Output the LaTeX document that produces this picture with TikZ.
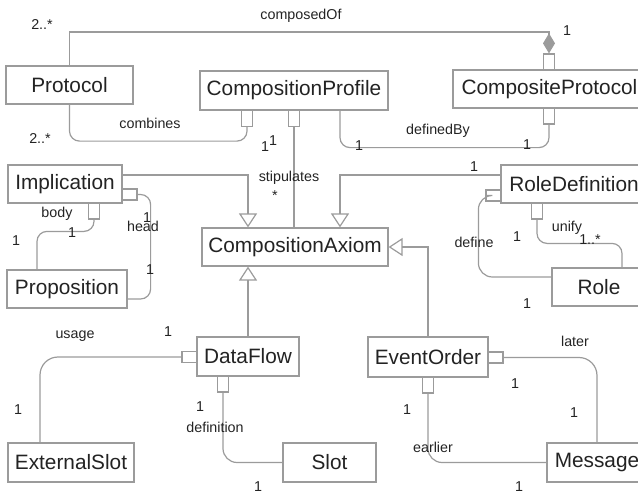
\documentclass[tikz,border=0pt]{standalone}
\usepackage{fontspec}
\setmainfont{Liberation Sans}
\usetikzlibrary{arrows.meta,calc}

\definecolor{linegray}{RGB}{155,155,155}
\definecolor{textdark}{RGB}{35,35,35}

\tikzset{
  cls/.style={draw=linegray, line width=1.2pt, fill=white, text=textdark,
    font=\fontsize{20.8}{24}\selectfont, minimum height=38pt, inner sep=0pt},
  qualv/.style={draw=linegray, line width=1.2pt, fill=white,
    minimum width=11pt, minimum height=16pt, inner sep=0pt},
  qualh/.style={draw=linegray, line width=1.2pt, fill=white,
    minimum width=15pt, minimum height=11pt, inner sep=0pt},
  assoc/.style={draw=linegray, line width=1.2pt, rounded corners=10pt},
  gen/.style={draw=linegray, line width=1.2pt, -{Triangle[open, length=14pt, width=18pt]}},
  lbl/.style={text=textdark, font=\fontsize{14.3}{16}\selectfont, inner sep=0pt},
}

\begin{document}
\begin{tikzpicture}[x=1pt,y=-1pt]
    \useasboundingbox (0,0) rectangle (638,495);
    \clip (0,0) rectangle (638,495);

    % Draw the classes
    \node[cls, minimum width=127pt] (protocol) at (69.5,85) {Protocol};
    \node[cls, minimum width=188pt, minimum height=39pt] (profile) at (294,90.5) {CompositionProfile};
    \node[cls, minimum width=193pt] (compProt) at (549.5,89) {CompositeProtocol};
    \node[cls, minimum width=114pt] (impl) at (65,184) {Implication};
    \node[cls, minimum width=120pt] (prop) at (67,289) {Proposition};
    \node[cls, minimum width=186pt] (axiom) at (295,247) {CompositionAxiom};
    \node[cls, minimum width=146pt] (roleDef) at (574,184) {RoleDefinition};
    \node[cls, minimum width=94pt] (role) at (599,287) {Role};
    \node[cls, minimum width=102pt, minimum height=39pt] (dataFlow) at (248,356.5) {DataFlow};
    \node[cls, minimum width=120pt, minimum height=40pt] (eventOrder) at (428,357) {EventOrder};
    \node[cls, minimum width=126pt, minimum height=39pt] (extSlot) at (71,462.5) {ExternalSlot};
    \node[cls, minimum width=93pt, minimum height=39pt] (slot) at (329.5,462.5) {Slot};
    \node[cls, minimum width=100pt, minimum height=39pt] (message) at (597,462.5) {Message};

    % Qualifier boxes
    \node[qualv] (qComb) at (247,118.5) {};
    \node[qualv] (qStip) at (294,118.5) {};
    \node[qualv] (qCompOf) at (549,62) {};
    \node[qualv] (qDefBy) at (549,116) {};
    \node[qualh] (qHead) at (129.5,194.5) {};
    \node[qualv] (qBody) at (94,211) {};
    \node[qualh] (qDefine) at (493.5,195.5) {};
    \node[qualv] (qUnify) at (537,211) {};
    \node[qualh] (qUsage) at (189.5,357) {};
    \node[qualv] (qDefin) at (223,384) {};
    \node[qualh] (qLater) at (495.5,357.5) {};
    \node[qualv] (qEarlier) at (428,385) {};

    % Composition
    \coordinate (cmpTurn) at (549,32);
    \draw[assoc, sharp corners, -{Diamond[fill=linegray, length=20pt, width=12pt]}]
      (protocol.north) |- (cmpTurn) -- (qCompOf.north);

    % Generalizations
    \draw[gen] ([yshift=9pt]impl.east) -| ([xshift=-47pt]axiom.north);
    \draw[gen] ([yshift=9pt]roleDef.west) -| ([xshift=45pt]axiom.north);
    \draw[gen] (dataFlow.north) -- (dataFlow.north |- axiom.south);
    \draw[gen] (eventOrder.north) |- (axiom.east);

    % Associations
    \draw[assoc] (protocol.south) |- ($(qComb.south)+(0,14)$) -- (qComb.south);
    \draw[assoc] ([xshift=46pt]profile.south) |- ($(qDefBy.south)+(0,23)$) -- (qDefBy.south);
    \draw[assoc] (qStip.south) -- (qStip.south |- axiom.north);
    \draw[assoc] (qBody.south) |- ($(prop.north)+(-30,-38)$) -- ($(prop.north)+(-30,0)$);
    \draw[assoc] (qHead.east) -| ($(prop.east)+(23,10)$) -- ($(prop.east)+(0,10)$);
    \draw[assoc, rounded corners=14pt] (qDefine.west) -| ($(role.west)+(-73,-10)$) -- ($(role.west)+(0,-10)$);
    \draw[assoc] (qUnify.south) |- ($(role.north)+(23,-24)$) -- ($(role.north)+(23,0)$);
    \draw[assoc, rounded corners=18pt] (qUsage.west) -| ($(extSlot.north)+(-31,0)$);
    \draw[assoc, rounded corners=14pt] (qDefin.south) |- (slot.west);
    \draw[assoc, rounded corners=18pt] (qLater.east) -| (message.north);
    \draw[assoc, rounded corners=14pt] (qEarlier.south) |- (message.west);

    % Role names and multiplicities
    \foreach \Pos/\Text [count=\i] in {(301,16)/composedOf, (42,25)/2..*, (150,123)/combines,
      (40,139)/2..*, (438,131)/definedBy, (289,178)/stipulates, (275,196)/*, (57,214)/body,
      (143,226)/head, (474,242)/define, (567,228)/unify, (590,240)/1..*, (75,336)/usage,
      (215,427)/definition, (575,341)/later, (433,447)/earlier}
      \node[lbl] (lab\i) at \Pos {\Text};

    \foreach \Pos [count=\i] in {(567,31),(265,147),(273,141),(359,146),(527,145),(474,167),
      (72,233),(16,241),(147,218),(150,270),(517,237),(527,304),(168,332),(18,410),
      (200,407),(258,487),(515,384),(574,413),(407,410),(519,487)}
      \node[lbl] (one\i) at \Pos {1};

  \end{tikzpicture}
\end{document}
